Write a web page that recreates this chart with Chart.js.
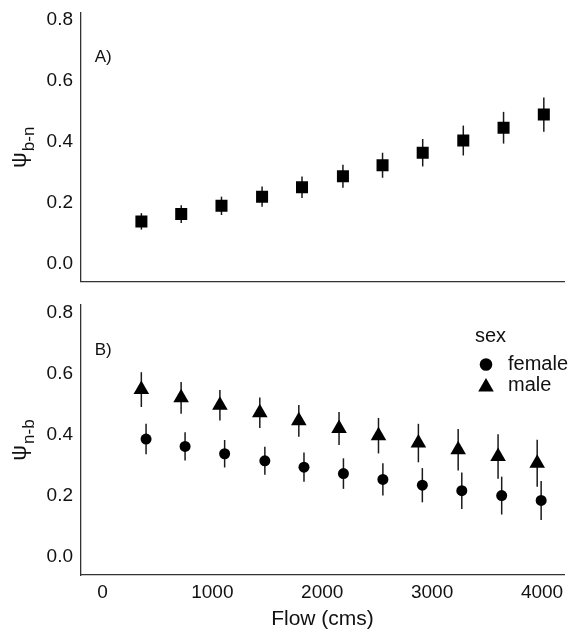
<!DOCTYPE html>
<html>
<head>
<meta charset="utf-8">
<script src="https://cdn.jsdelivr.net/npm/chart.js@4/dist/chart.umd.min.js"></script>
<style>
  body { margin: 0; background: #fff; }
  #wrap { position: relative; width: 573px; height: 632px; }
  canvas { position: absolute; left: 0; }
</style>
</head>
<body>
<div id="wrap">
  <canvas id="panel-a" width="573" height="290" style="top:0"></canvas>
  <canvas id="panel-b" width="573" height="342" style="top:290px"></canvas>
</div>
<script>
const FONT = "'Liberation Sans', Arial, sans-serif";
const INK = '#111';

const xTicks = [0, 1000, 2000, 3000, 4000];
const yTicks = [0, 0.2, 0.4, 0.6, 0.8];

// Panel A: psi b-n against flow
const flowA = [354, 716, 1082, 1451, 1814, 2186, 2546, 2911, 3280, 3646, 4012];
const meanA = [0.138, 0.162, 0.189, 0.219, 0.250, 0.286, 0.322, 0.363, 0.403, 0.445, 0.488];
const errA = [0.027, 0.029, 0.030, 0.033, 0.035, 0.038, 0.041, 0.045, 0.049, 0.052, 0.056];

// Panel B: psi n-b by sex (points dodged a little)
const flowFemale = [397, 752, 1112, 1478, 1834, 2193, 2552, 2911, 3270, 3633, 3992];
const meanFemale = [0.385, 0.361, 0.337, 0.314, 0.293, 0.272, 0.253, 0.234, 0.216, 0.200, 0.184];
const errFemale = [0.050, 0.046, 0.045, 0.046, 0.048, 0.050, 0.053, 0.056, 0.060, 0.062, 0.064];

const flowMale = [354, 716, 1069, 1432, 1787, 2153, 2512, 2875, 3237, 3600, 3956];
const meanMale = [0.547, 0.520, 0.496, 0.471, 0.445, 0.420, 0.396, 0.372, 0.350, 0.328, 0.306];
const errMale = [0.057, 0.052, 0.050, 0.050, 0.052, 0.054, 0.058, 0.063, 0.068, 0.073, 0.077];

function toPoints(xs, ys) {
    return xs.map((x, i) => ({ x: x, y: ys[i] }));
}

// vertical error bars, drawn under the points
const errorBars = {
    id: 'errorBars',
    beforeDatasetsDraw(chart) {
        const ctx = chart.ctx;
        const xs = chart.scales.x;
        const ys = chart.scales.y;
        ctx.save();
        ctx.strokeStyle = '#1a1a1a';
        ctx.lineWidth = 1.5;
        chart.data.datasets.forEach(ds => {
            ds.data.forEach((p, i) => {
                const px = xs.getPixelForValue(p.x);
                ctx.beginPath();
                ctx.moveTo(px, ys.getPixelForValue(p.y - ds.errors[i]));
                ctx.lineTo(px, ys.getPixelForValue(p.y + ds.errors[i]));
                ctx.stroke();
            });
        });
        ctx.restore();
    }
};

// panel letter and the psi axis title (subscript needs manual drawing)
const panelText = {
    id: 'panelText',
    afterDraw(chart, args, opts) {
        const ctx = chart.ctx;
        const area = chart.chartArea;
        ctx.save();
        ctx.fillStyle = INK;
        ctx.textAlign = 'left';
        ctx.textBaseline = 'middle';
        ctx.font = '17px ' + FONT;
        ctx.fillText(opts.label, chart.scales.x.getPixelForValue(opts.at[0]), chart.scales.y.getPixelForValue(opts.at[1]));

        ctx.font = '22px ' + FONT;
        const wPsi = ctx.measureText(opts.symbol).width;
        ctx.font = '17px ' + FONT;
        const wSub = ctx.measureText(opts.sub).width;
        ctx.translate(26, (area.top + area.bottom) / 2);
        ctx.rotate(-Math.PI / 2);
        ctx.textBaseline = 'alphabetic';
        const start = -(wPsi + wSub + 1) / 2;
        ctx.font = '22px ' + FONT;
        ctx.fillText(opts.symbol, start, 0);
        ctx.font = '17px ' + FONT;
        ctx.fillText(opts.sub, start + wPsi + 1, 8);
        ctx.restore();
    }
};

// ggplot style legend inside panel B
const sexLegend = {
    id: 'sexLegend',
    afterDraw(chart, args, opts) {
        if (!opts.show) return;
        const ctx = chart.ctx;
        ctx.save();
        ctx.fillStyle = INK;
        ctx.textAlign = 'left';
        ctx.textBaseline = 'middle';
        ctx.font = '20px ' + FONT;
        ctx.fillText(opts.title, 475, 46);
        chart.data.datasets.forEach((ds, i) => {
            const y = opts.rows[i];
            ctx.fillStyle = '#000';
            Chart.helpers.drawPoint(ctx, {
                pointStyle: ds.pointStyle, radius: ds.legendRadius, rotation: 0, borderWidth: 0
            }, 486, y);
            ctx.fillStyle = INK;
            ctx.fillText(ds.label, 508, y - (ds.pointStyle === 'triangle' ? 2 : 0));
        });
        ctx.restore();
    }
};

function makePanel(id, datasets, cfg) {
    return new Chart(document.getElementById(id), {
        type: 'scatter',
        data: { datasets: datasets },
        options: {
            responsive: false,
            animation: false,
            events: [],
            layout: { padding: { top: cfg.padTop, right: 3, left: 0, bottom: 0 } },
            plugins: {
                legend: { display: false },
                tooltip: { enabled: false },
                panelText: { label: cfg.label, at: [-70, 0.675], symbol: 'ψ', sub: cfg.sub },
                sexLegend: { show: cfg.legend, title: 'sex', rows: [74.5, 97] }
            },
            scales: {
                x: {
                    type: 'linear',
                    min: -195,
                    max: 4200,
                    grid: { display: false, drawTicks: false },
                    border: { color: '#333', width: 1.3 },
                    ticks: {
                        display: cfg.showX,
                        padding: 6,
                        color: INK,
                        font: { family: FONT, size: 19 },
                        callback: v => String(v)
                    },
                    title: {
                        display: cfg.showX,
                        text: 'Flow (cms)',
                        color: INK,
                        font: { family: FONT, size: 21 },
                        padding: { top: 0, bottom: 0 }
                    },
                    afterBuildTicks: s => { s.ticks = xTicks.map(v => ({ value: v })); },
                    afterFit: s => {
                        s.height = cfg.xHeight;
                        s.paddingLeft = 0;
                        s.paddingRight = 0;
                    }
                },
                y: {
                    min: cfg.yMin,
                    max: cfg.yMax,
                    grid: { display: false, drawTicks: false },
                    border: { color: '#333', width: 1.3 },
                    ticks: {
                        padding: 8,
                        color: INK,
                        font: { family: FONT, size: 19 },
                        callback: v => v.toFixed(1)
                    },
                    afterBuildTicks: s => { s.ticks = yTicks.map(v => ({ value: v })); },
                    afterFit: s => {
                        s.width = 81;
                        s.paddingTop = 0;
                        s.paddingBottom = 0;
                    }
                }
            }
        },
        plugins: [errorBars, panelText, sexLegend]
    });
}

makePanel('panel-a', [
    {
        label: 'all',
        data: toPoints(flowA, meanA),
        errors: errA,
        pointStyle: 'rect',
        pointRadius: 8.5,
        backgroundColor: '#000',
        borderWidth: 0
    }
], { padTop: 13, xHeight: 8, showX: false, yMin: -0.059, yMax: 0.821, label: 'A)', sub: 'b-n', legend: false });

makePanel('panel-b', [
    {
        label: 'female',
        data: toPoints(flowFemale, meanFemale),
        errors: errFemale,
        pointStyle: 'circle',
        pointRadius: 5.5,
        legendRadius: 6.3,
        backgroundColor: '#000',
        borderWidth: 0
    },
    {
        label: 'male',
        data: toPoints(flowMale, meanMale),
        errors: errMale,
        pointStyle: 'triangle',
        pointRadius: 9,
        legendRadius: 9,
        backgroundColor: '#000',
        borderWidth: 0
    }
], { padTop: 15, xHeight: 57, showX: true, yMin: -0.06, yMax: 0.824, label: 'B)', sub: 'n-b', legend: true });
</script>
</body>
</html>
